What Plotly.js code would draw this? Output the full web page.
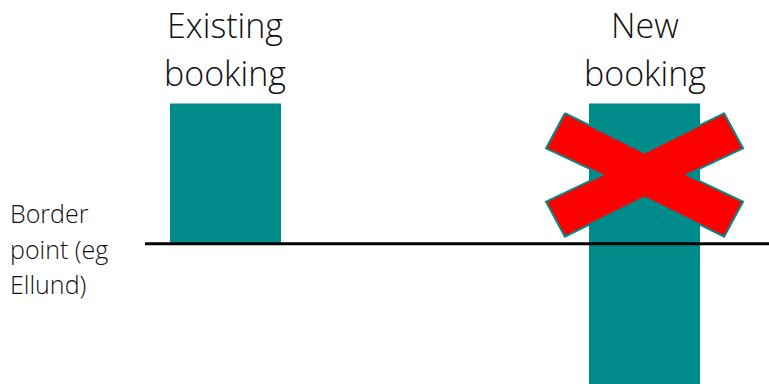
<!DOCTYPE html>
<html>
<head>
<meta charset="utf-8">
<script src="https://cdn.plot.ly/plotly-3.0.1.min.js"></script>
<style>html,body{margin:0;padding:0;background:#fff;}#chart{width:769px;height:384px;}</style>
</head>
<body>
<div id="chart"></div>
<script>
// Data
const categories = [0, 1];
const labelLine1 = ["Existing", "New"];
const labelLine2 = ["booking", "booking"];
const barBase = [0, -1];
const barHeight = [1, 2];
const borderLabel = ["Border", "point (eg", "Ellund)"];
const borderLineX = [-0.192, 1.3];
const borderLineY = [0, 0];
const crossX = [0.81, 1.0, 1.19, 1.235, 1.10, 1.235, 1.19, 1.0, 0.81, 0.765, 0.90, 0.765, 0.81];
const crossY = [0.93, 0.65, 0.93, 0.68, 0.49, 0.30, 0.05, 0.33, 0.05, 0.30, 0.49, 0.68, 0.93];

const teal = '#008B8B';
const font = '"Open Sans", Lato, sans-serif';

const traces = [
  {type: 'bar', x: categories, y: barHeight, base: barBase, width: 0.265,
   marker: {color: teal, line: {width: 0}}, hoverinfo: 'skip', showlegend: false},
  {type: 'scatter', mode: 'lines', x: borderLineX, y: borderLineY,
   line: {color: '#000', width: 3}, hoverinfo: 'skip', showlegend: false},
  {type: 'scatter', mode: 'lines', x: crossX, y: crossY, fill: 'toself', fillcolor: '#FF0000',
   line: {color: teal, width: 2}, hoverinfo: 'skip', showlegend: false}
];

const annotations = [];
categories.forEach((c, i) => {
  annotations.push({x: c, y: 1.56, xref: 'x', yref: 'y', text: labelLine1[i], showarrow: false,
    xanchor: 'center', yanchor: 'middle', font: {family: font, size: 34, weight: 300, color: '#111'}});
  annotations.push({x: c, y: 1.215, xref: 'x', yref: 'y', text: labelLine2[i], showarrow: false,
    xanchor: 'center', yanchor: 'middle', font: {family: font, size: 34, weight: 300, color: '#111'}});
});
const borderY = [213, 249, 284];
borderLabel.forEach((t, i) => {
  annotations.push({x: 0.011, y: 1 - borderY[i] / 384, xref: 'paper', yref: 'paper', text: t, showarrow: false,
    xanchor: 'left', yanchor: 'middle', font: {family: font, size: 25, weight: 300, color: '#111'}});
});

const layout = {
  width: 769, height: 384,
  margin: {l: 0, r: 0, t: 0, b: 0},
  paper_bgcolor: '#fff', plot_bgcolor: '#fff',
  showlegend: false,
  xaxis: {range: [-0.538, 1.297], showgrid: false, zeroline: false, showticklabels: false, showline: false, fixedrange: true},
  yaxis: {range: [-1, 1.737], showgrid: false, zeroline: false, showticklabels: false, showline: false, fixedrange: true},
  annotations: annotations
};

Plotly.newPlot('chart', traces, layout, {displayModeBar: false, staticPlot: true});
</script>
</body>
</html>
